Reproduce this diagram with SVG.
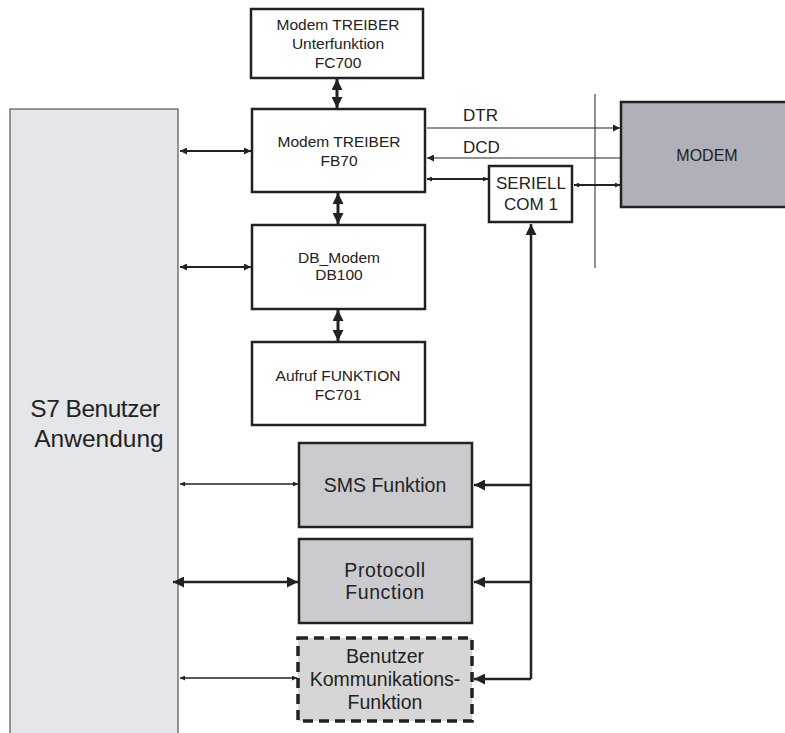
<svg xmlns="http://www.w3.org/2000/svg" width="785" height="733" viewBox="0 0 785 733">
<defs>
<style>
.t{font-family:"Liberation Sans",Arial,sans-serif;fill:#222;text-anchor:middle}
.s{font-size:15.5px}
.m{font-size:19.5px}
.box{fill:#fff;stroke:#222;stroke-width:2.5}
.ln{stroke:#222;fill:none}
</style>
<marker id="hL" viewBox="0 0 10 10" refX="10" refY="5" markerUnits="userSpaceOnUse" markerWidth="11" markerHeight="11" orient="auto-start-reverse"><path d="M0,0L10,5L0,10z" fill="#222"/></marker>
<marker id="hS" viewBox="0 0 10 10" refX="10" refY="5" markerUnits="userSpaceOnUse" markerWidth="8" markerHeight="5" orient="auto-start-reverse"><path d="M0,0L10,5L0,10z" fill="#222"/></marker>
<marker id="hT" viewBox="0 0 10 10" refX="10" refY="5" markerUnits="userSpaceOnUse" markerWidth="9" markerHeight="7" orient="auto-start-reverse"><path d="M0,0L10,5L0,10z" fill="#222"/></marker>
</defs>
<rect width="785" height="733" fill="#fff"/>

<g id="s7">
<rect x="10" y="109" width="168" height="630" fill="#e5e6ea" stroke="#555" stroke-width="1.2"/>
<text class="t" x="95" y="417" font-size="24.5" letter-spacing="-0.5">S7 Benutzer</text>
<text class="t" x="99" y="447" font-size="24.5">Anwendung</text>
</g>

<g id="fc700">
<rect class="box" x="251" y="9" width="172" height="69"/>
<text class="t s" x="338" y="30">Modem TREIBER</text>
<text class="t s" x="338" y="49">Unterfunktion</text>
<text class="t s" x="338" y="68">FC700</text>
</g>

<g id="fb70">
<rect class="box" x="252" y="109" width="173" height="83"/>
<text class="t s" x="339" y="147">Modem TREIBER</text>
<text class="t s" x="339" y="166">FB70</text>
</g>

<g id="db100">
<rect class="box" x="252" y="225" width="173" height="84"/>
<text class="t s" x="339" y="263">DB_Modem</text>
<text class="t s" x="339" y="280">DB100</text>
</g>

<g id="fc701">
<rect class="box" x="252" y="342" width="173" height="83"/>
<text class="t s" x="338" y="381">Aufruf FUNKTION</text>
<text class="t s" x="338" y="400">FC701</text>
</g>

<g id="sms">
<rect x="299" y="443" width="173" height="84" fill="#cbcbcf" stroke="#222" stroke-width="2.5"/>
<text class="t m" x="385" y="492">SMS Funktion</text>
</g>

<g id="protocoll">
<rect x="299" y="539" width="173" height="84" fill="#cbcbcf" stroke="#222" stroke-width="2.5"/>
<text class="t m" x="385" y="577" letter-spacing="0.6">Protocoll</text>
<text class="t m" x="385" y="599" letter-spacing="0.6">Function</text>
</g>

<g id="benutzer">
<rect x="298" y="638" width="174" height="83" fill="#d6d6d6" stroke="#222" stroke-width="3.5" stroke-dasharray="10,6"/>
<text class="t m" x="385" y="663">Benutzer</text>
<text class="t m" x="385" y="686">Kommunikations-</text>
<text class="t m" x="385" y="709">Funktion</text>
</g>

<g id="seriell">
<rect class="box" x="489" y="166" width="83" height="56"/>
<text class="t" x="531" y="189" font-size="17">SERIELL</text>
<text class="t" x="531" y="210" font-size="17">COM 1</text>
</g>

<g id="modem">
<rect x="621" y="102" width="170" height="105" fill="#b0b0b8" stroke="#222" stroke-width="2.5"/>
<text class="t" x="707" y="161" font-size="16">MODEM</text>
</g>

<g id="connectors">
<line class="ln" x1="595" y1="94" x2="595" y2="268" stroke-width="1"/>
<line class="ln" x1="337" y1="79" x2="337" y2="108" stroke-width="3" marker-start="url(#hL)" marker-end="url(#hL)"/>
<line class="ln" x1="338" y1="193" x2="338" y2="224" stroke-width="3" marker-start="url(#hL)" marker-end="url(#hL)"/>
<line class="ln" x1="338" y1="310" x2="338" y2="341" stroke-width="3" marker-start="url(#hL)" marker-end="url(#hL)"/>
<line class="ln" x1="180" y1="151" x2="251" y2="151" stroke-width="2" marker-start="url(#hT)" marker-end="url(#hT)"/>
<line class="ln" x1="180" y1="267" x2="251" y2="267" stroke-width="1.8" marker-start="url(#hT)" marker-end="url(#hT)"/>
<line class="ln" x1="180" y1="484" x2="298" y2="484" stroke-width="1.4" marker-start="url(#hS)" marker-end="url(#hS)"/>
<line class="ln" x1="173" y1="582" x2="298" y2="582" stroke-width="2.5" marker-start="url(#hL)" marker-end="url(#hL)"/>
<line class="ln" x1="180" y1="678" x2="297" y2="678" stroke-width="1.4" marker-start="url(#hS)" marker-end="url(#hS)"/>
<line class="ln" x1="427" y1="128" x2="620" y2="128" stroke-width="1" marker-end="url(#hT)"/>
<text class="t" x="463" y="121" font-size="17" text-anchor="start" style="text-anchor:start">DTR</text>
<line class="ln" x1="620" y1="158" x2="427" y2="158" stroke-width="1" marker-end="url(#hT)"/>
<text class="t" x="463" y="153" font-size="17" style="text-anchor:start">DCD</text>
<line class="ln" x1="427" y1="179" x2="488" y2="179" stroke-width="2" marker-start="url(#hS)" marker-end="url(#hS)"/>
<line class="ln" x1="574" y1="185" x2="620" y2="185" stroke-width="2" marker-start="url(#hS)" marker-end="url(#hS)"/>
<polyline class="ln" points="531,679 531,224" stroke-width="2.5" marker-end="url(#hL)"/>
<line class="ln" x1="531" y1="485" x2="474" y2="485" stroke-width="2.5" marker-end="url(#hL)"/>
<line class="ln" x1="531" y1="582" x2="474" y2="582" stroke-width="2.5" marker-end="url(#hL)"/>
<polyline class="ln" points="531,679 474,679" stroke-width="2.5" marker-end="url(#hL)"/>
</g>
</svg>
